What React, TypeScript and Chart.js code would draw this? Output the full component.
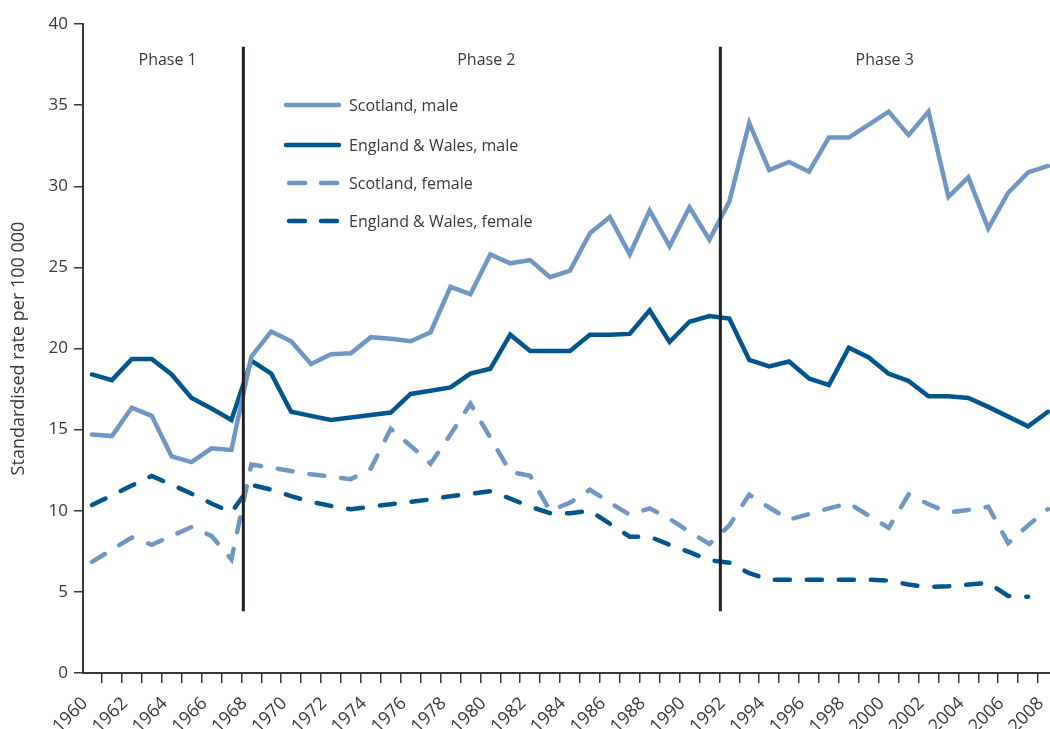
import React, { useEffect, useRef } from "react";
import { Chart, registerables } from "chart.js";

Chart.register(...registerables);

const YEARS = [
  1960, 1961, 1962, 1963, 1964, 1965, 1966, 1967, 1968, 1969,
  1970, 1971, 1972, 1973, 1974, 1975, 1976, 1977, 1978, 1979,
  1980, 1981, 1982, 1983, 1984, 1985, 1986, 1987, 1988, 1989,
  1990, 1991, 1992, 1993, 1994, 1995, 1996, 1997, 1998, 1999,
  2000, 2001, 2002, 2003, 2004, 2005, 2006, 2007, 2008,
];

const SCOTLAND_MALE = [
  14.7, 14.6, 16.35, 15.85, 13.35, 13.0, 13.85, 13.75, 19.5, 21.05,
  20.45, 19.05, 19.65, 19.7, 20.7, 20.6, 20.45, 21.0, 23.8, 23.35,
  25.8, 25.25, 25.45, 24.4, 24.8, 27.1, 28.1, 25.8, 28.5, 26.3,
  28.7, 26.7, 29.05, 33.9, 31.0, 31.5, 30.9, 33.0, 33.0, 33.8,
  34.6, 33.15, 34.6, 29.35, 30.55, 27.4, 29.6, 30.85, 31.25,
];

const EW_MALE = [
  18.4, 18.05, 19.35, 19.35, 18.4, 16.95, 16.3, 15.6, 19.25, 18.45,
  16.1, 15.85, 15.6, 15.75, 15.9, 16.05, 17.2, 17.4, 17.6, 18.45,
  18.75, 20.85, 19.85, 19.85, 19.85, 20.85, 20.85, 20.9, 22.35, 20.4,
  21.65, 22.0, 21.85, 19.3, 18.9, 19.2, 18.15, 17.75, 20.05, 19.45,
  18.45, 18.0, 17.05, 17.05, 16.95, 16.4, 15.8, 15.2, 16.1,
];

const SCOTLAND_FEMALE = [
  6.85, 7.6, 8.35, 7.9, 8.45, 9.0, 8.45, 7.0, 12.85, 12.65,
  12.45, 12.25, 12.1, 11.95, 12.6, 15.05, 14.0, 12.9, 14.7, 16.6,
  14.5, 12.4, 12.15, 10.0, 10.5, 11.3, 10.5, 9.75, 10.15, 9.5,
  8.7, 7.95, 9.1, 11.0, 10.2, 9.45, 9.8, 10.15, 10.45, 9.7,
  8.95, 11.0, 10.4, 9.9, 10.05, 10.25, 8.0, 9.1, 10.1,
];

const EW_FEMALE = [
  10.35, 10.95, 11.55, 12.15, 11.6, 11.05, 10.45, 9.9, 11.6, 11.3,
  10.9, 10.55, 10.3, 10.1, 10.25, 10.4, 10.55, 10.7, 10.9, 11.05,
  11.2, 10.75, 10.25, 9.85, 9.85, 10.0, 9.2, 8.4, 8.4, 7.9,
  7.45, 6.95, 6.8, 6.15, 5.75, 5.75, 5.75, 5.75, 5.75, 5.75,
  5.7, 5.45, 5.3, 5.35, 5.45, 5.55, 4.75, 4.7, null,
];

const SERIES_LABELS = [
  "Scotland, male",
  "England & Wales, male",
  "Scotland, female",
  "England & Wales, female",
];

const PHASE_LABELS = ["Phase 1", "Phase 2", "Phase 3"];
const PHASE_BOUNDARIES = [1967.6, 1991.55];

// annotation placement (data coordinates)
const PHASE_LABEL_X = [1963.8, 1979.8, 1999.8];
const PHASE_LABEL_Y = 37.75;
const PHASE_LINE_TOP = 38.6;
const PHASE_LINE_BOTTOM = 3.8;

const LIGHT = "rgb(112,151,196)";
const DARK = "rgb(0,85,140)";
const INK = "#383838";
const FONT = '"Open Sans", "DejaVu Sans", sans-serif';

const STYLES = [
  { color: LIGHT, dash: [] as number[] },
  { color: DARK, dash: [] as number[] },
  { color: LIGHT, dash: [15, 17] },
  { color: DARK, dash: [15, 17] },
];

const LEGEND_ROWS_Y = [105, 145, 183, 221];

export default function App() {
  const ref = useRef<HTMLCanvasElement | null>(null);

  useEffect(() => {
    const canvas = ref.current;
    if (!canvas) return;
    const seriesValues = [SCOTLAND_MALE, EW_MALE, SCOTLAND_FEMALE, EW_FEMALE];
    const datasets = seriesValues.map((vals, i) => ({
      label: SERIES_LABELS[i],
      data: YEARS.map((yr, j) => ({ x: yr, y: vals[j] })),
      borderColor: STYLES[i].color,
      backgroundColor: STYLES[i].color,
      borderWidth: 4.5,
      borderDash: STYLES[i].dash,
      borderCapStyle: "round" as const,
      borderJoinStyle: "miter" as const,
      pointRadius: 0,
      tension: 0,
      fill: false,
    }));

    const overlay = {
      id: "overlay",
      afterDatasetsDraw(chart: any) {
        const { ctx, scales } = chart;
        const x = scales.x;
        const y = scales.y;
        ctx.save();
        ctx.strokeStyle = "#231f20";
        ctx.lineWidth = 3;
        ctx.lineCap = "butt";
        ctx.setLineDash([]);
        PHASE_BOUNDARIES.forEach((b) => {
          const px = x.getPixelForValue(b);
          ctx.beginPath();
          ctx.moveTo(px, y.getPixelForValue(PHASE_LINE_TOP));
          ctx.lineTo(px, y.getPixelForValue(PHASE_LINE_BOTTOM));
          ctx.stroke();
        });
        ctx.fillStyle = INK;
        ctx.font = `16px ${FONT}`;
        ctx.textAlign = "center";
        ctx.textBaseline = "middle";
        PHASE_LABELS.forEach((t, i) => {
          ctx.fillText(t, x.getPixelForValue(PHASE_LABEL_X[i]), y.getPixelForValue(PHASE_LABEL_Y));
        });
        // legend
        SERIES_LABELS.forEach((label, i) => {
          const ly = LEGEND_ROWS_Y[i];
          ctx.strokeStyle = STYLES[i].color;
          ctx.lineWidth = 4.5;
          ctx.lineCap = "round";
          ctx.beginPath();
          if (STYLES[i].dash.length) {
            ctx.setLineDash([16, 16]);
            ctx.moveTo(289, ly);
          } else {
            ctx.setLineDash([]);
            ctx.moveTo(286, ly);
          }
          ctx.lineTo(339, ly);
          ctx.stroke();
          ctx.setLineDash([]);
          ctx.fillStyle = INK;
          ctx.textAlign = "left";
          ctx.textBaseline = "middle";
          ctx.font = `16px ${FONT}`;
          ctx.fillText(label, 349, ly + 1);
        });
        ctx.restore();
      },
    };

    const chart = new Chart(canvas, {
      type: "line",
      data: { datasets: datasets as any },
      options: {
        animation: false,
        responsive: true,
        maintainAspectRatio: false,
        layout: { padding: { top: 24, right: 0, left: 0, bottom: 0 } },
        plugins: {
          legend: { display: false },
          tooltip: { enabled: false },
        },
        scales: {
          x: {
            type: "linear",
            min: 1959.55,
            max: 2008.1,
            afterBuildTicks: (s: any) => {
              s.ticks = YEARS.map((v) => ({ value: v }));
            },
            afterFit: (s: any) => {
              s.height = 56;
              s.paddingLeft = 0;
              s.paddingRight = 0;
            },
            grid: {
              display: true,
              drawOnChartArea: false,
              drawTicks: true,
              tickLength: 10,
              offset: true,
              color: INK,
              lineWidth: 1.5,
            },
            border: { display: true, color: INK, width: 2 },
            ticks: {
              autoSkip: false,
              minRotation: 45,
              maxRotation: 45,
              padding: 10,
              labelOffset: -7,
              color: INK,
              font: { family: FONT, size: 18 },
              callback: (v: any) => (Number(v) % 2 === 0 ? String(v) : ""),
            },
          },
          y: {
            type: "linear",
            min: 0,
            max: 40,
            afterFit: (s: any) => {
              s.width = 83;
            },
            grid: {
              display: true,
              drawOnChartArea: false,
              drawTicks: true,
              tickLength: 9,
              color: INK,
              lineWidth: 1.5,
            },
            border: { display: true, color: INK, width: 2 },
            ticks: {
              stepSize: 5,
              padding: 6,
              color: INK,
              font: { family: FONT, size: 17 },
            },
            title: {
              display: true,
              text: "Standardised rate per 100 000",
              color: INK,
              font: { family: FONT, size: 18 },
              padding: { top: 8, bottom: 0 },
            },
          },
        },
      },
      plugins: [overlay],
    });
    return () => chart.destroy();
  }, []);

  return (
    <div
      style={{
        position: "fixed",
        left: 0,
        top: 0,
        width: 1050,
        height: 729,
        background: "#ffffff",
      }}
    >
      <canvas ref={ref} />
    </div>
  );
}
